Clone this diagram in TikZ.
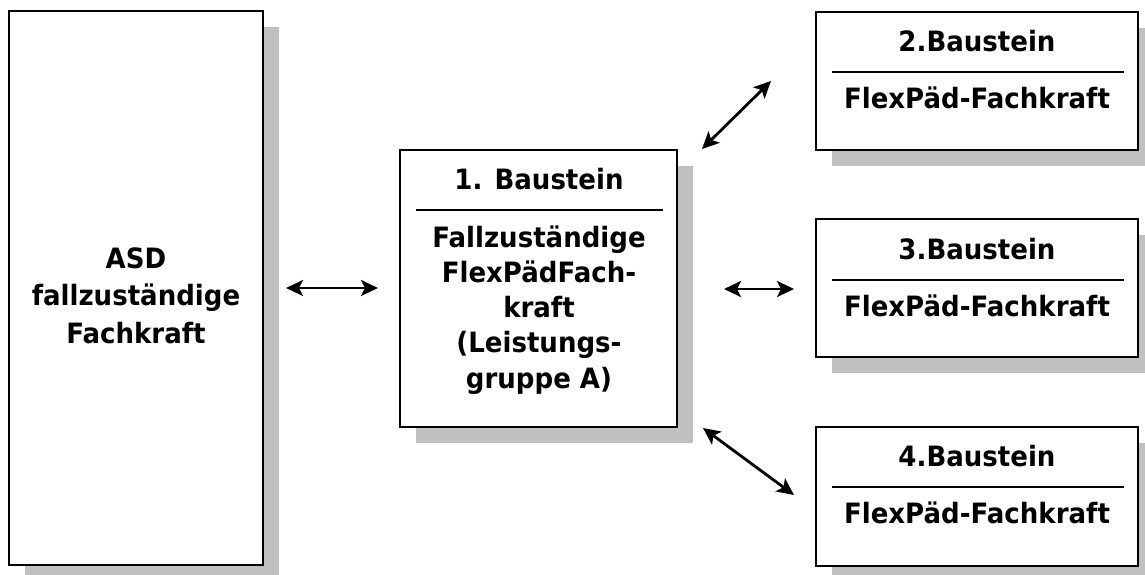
\documentclass[tikz,border=0pt]{standalone}
\usepackage{fontspec}
\setmainfont{DejaVu Sans}[FakeStretch=0.93]
\usetikzlibrary{arrows.meta}
\definecolor{shadowgray}{RGB}{192,192,192}
\begin{document}
\begin{tikzpicture}[x=1pt,y=-1pt,
  box/.style={draw=black, line width=2pt, fill=white, anchor=north west, inner sep=0pt, outer sep=0pt},
  shadowbox/.style={fill=shadowgray, draw=none, anchor=north west, inner sep=0pt, outer sep=0pt},
  lbl/.style={font=\bfseries\fontsize{28}{35.25}\selectfont, align=center, anchor=base, inner sep=0pt},
  biarrow/.style={line width=2.8pt, {Stealth[length=17pt,width=16pt,inset=4pt]}-{Stealth[length=17pt,width=16pt,inset=4pt]}},
  rule/.style={line width=1.6pt}]
\useasboundingbox (0,0) rectangle (1145,574);
% shadows
\node[shadowbox, minimum width=254pt, minimum height=554pt] (asdS) at (25,27) {};
\node[shadowbox, minimum width=277pt, minimum height=277pt] (b1S) at (416,166) {};
\node[shadowbox, minimum width=322pt, minimum height=138pt] (b2S) at (832,28) {};
\node[shadowbox, minimum width=322pt, minimum height=138pt] (b3S) at (832,235) {};
\node[shadowbox, minimum width=322pt, minimum height=139pt] (b4S) at (832,443) {};
% boxes
\node[box, minimum width=254pt, minimum height=554pt] (asd) at (9,11) {};
\node[box, minimum width=277pt, minimum height=277pt] (b1) at (400,150) {};
\node[box, minimum width=322pt, minimum height=138pt] (b2) at (816,12) {};
\node[box, minimum width=322pt, minimum height=138pt] (b3) at (816,219) {};
\node[box, minimum width=322pt, minimum height=139pt] (b4) at (816,427) {};
% texts (multi-line: base = baseline of last line)
\node[lbl, font=\bfseries\fontsize{28}{37.5}\selectfont] (asdT) at (136,343) {ASD\\fallzuständige\\Fachkraft};
\node[lbl] (b1H) at (539,189) {1. Baustein};
\node[lbl] (b1T) at (539,388) {Fallzuständige\\FlexPädFach-\\kraft\\(Leistungs-\\gruppe A)};
\node[lbl] (b2H) at (977,51) {2.Baustein};
\node[lbl] (b2T) at (977,108) {FlexPäd-Fachkraft};
\node[lbl] (b3H) at (977,259) {3.Baustein};
\node[lbl] (b3T) at (977,316) {FlexPäd-Fachkraft};
\node[lbl] (b4H) at (977,466) {4.Baustein};
\node[lbl] (b4T) at (977,523) {FlexPäd-Fachkraft};
% dividers
\draw[rule] ([xshift=16pt,yshift=-60pt]b1.north west) -- ([xshift=-14pt,yshift=-60pt]b1.north east);
\draw[rule] ([xshift=16pt,yshift=-60pt]b2.north west) -- ([xshift=-14pt,yshift=-60pt]b2.north east);
\draw[rule] ([xshift=16pt,yshift=-61pt]b3.north west) -- ([xshift=-14pt,yshift=-61pt]b3.north east);
\draw[rule] ([xshift=16pt,yshift=-60pt]b4.north west) -- ([xshift=-14pt,yshift=-60pt]b4.north east);
% arrows
\coordinate (a1s) at (286,288);
\coordinate (a1e) at (378,288);
\coordinate (a2s) at (702,149);
\coordinate (a2e) at (771,81);
\coordinate (a3s) at (724,289);
\coordinate (a3e) at (794,289);
\coordinate (a4s) at (703,428);
\coordinate (a4e) at (794,495);
\draw[biarrow] (a1s) -- (a1e);
\draw[biarrow] (a2s) -- (a2e);
\draw[biarrow] (a3s) -- (a3e);
\draw[biarrow] (a4s) -- (a4e);
\end{tikzpicture}
\end{document}
